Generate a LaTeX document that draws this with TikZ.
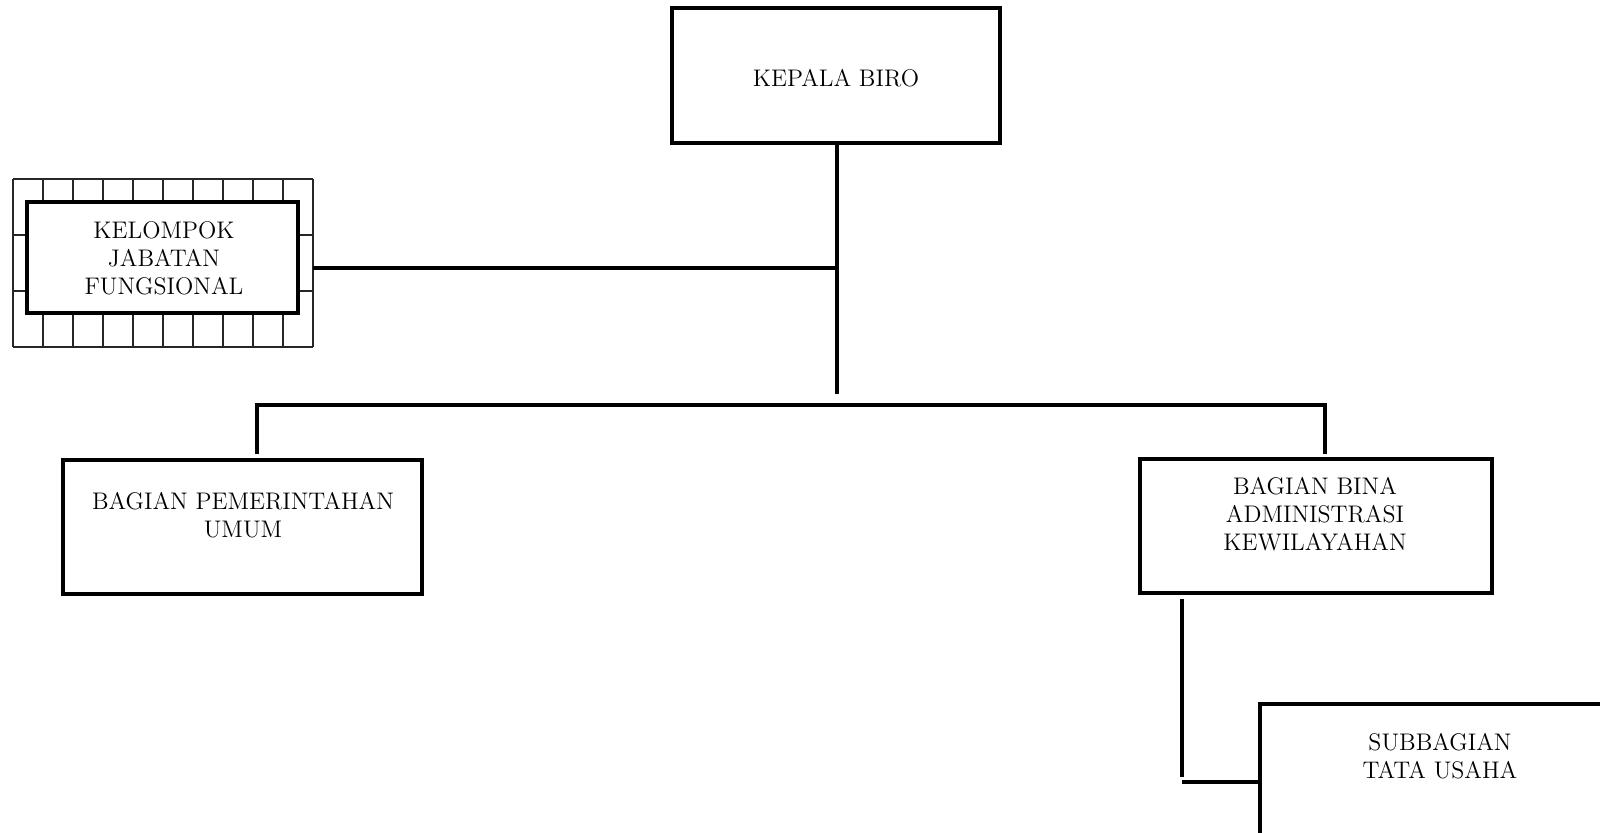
\documentclass[tikz,border=0pt]{standalone}
\begin{document}
\begin{tikzpicture}[x=0.5pt,y=-0.5pt,
  box/.style={draw, line width=2pt, inner sep=0pt},
  txt/.style={align=center, inner sep=0pt, font=\fontsize{12}{14}\selectfont},
  conn/.style={line width=1.8pt},
  gridline/.style={line width=0.6pt, draw=black!85}]
\useasboundingbox (0,0) rectangle (1600,833);

% KEPALA BIRO
\node[box, minimum width=164pt, minimum height=67.5pt] (kb) at (836,76) {};
\node[txt] (kbt) at (836,78) {KEPALA BIRO};

% Kelompok jabatan fungsional with grid
\node[minimum width=150pt, minimum height=84pt, inner sep=0pt] (kjfgrid) at (163,263) {};
\foreach \i in {0,...,10} \draw[gridline] (13+30*\i,179) -- (13+30*\i,347);
\foreach \j in {179,235,291,347} \draw[gridline] (13,\j) -- (313,\j);
\node[box, fill=white, minimum width=135.5pt, minimum height=55.5pt] (kjf) at (162.5,257.5) {};
\node[txt] (kjft) at (164,258) {KELOMPOK\\JABATAN\\FUNGSIONAL};

% Bagian Pemerintahan Umum
\node[box, minimum width=179.5pt, minimum height=67pt] (bpu) at (242.5,527) {};
\node[txt] (bput) at (243,515) {BAGIAN PEMERINTAHAN\\UMUM};

% Bagian Bina Administrasi Kewilayahan
\node[box, minimum width=176pt, minimum height=67pt] (bina) at (1316,526) {};
\node[txt] (binat) at (1315,514) {BAGIAN BINA\\ADMINISTRASI\\KEWILAYAHAN};

% Subbagian Tata Usaha (runs off the page)
\begin{scope}
\clip (0,0) rectangle (1600,833);
\node[box, minimum width=200pt, minimum height=100pt, anchor=north west] (sub) at (1258,702) {};
\end{scope}
\node[txt] (subt) at (1440,756) {SUBBAGIAN\\TATA USAHA};

% connector coordinates
\coordinate (kbend) at (837,394);
\coordinate (junc) at (837,268);
\coordinate (busl) at (257,405);
\coordinate (busr) at (1325,405);
\coordinate (dropl) at (257,454);
\coordinate (dropr) at (1325,454);
\coordinate (binatop) at (1182,599);
\coordinate (binabot) at (1182,777);
\coordinate (subl) at (1182,782);

\draw[conn] (kb.south -| kbend) -- (kbend);
\draw[conn] (kjfgrid.east |- junc) -- (junc);
\draw[conn] (dropl) -- (busl) -- (busr) -- (dropr);
\draw[conn] (binatop) -- (binabot);
\draw[conn] (subl) -- (sub.west |- subl);
\end{tikzpicture}
\end{document}
